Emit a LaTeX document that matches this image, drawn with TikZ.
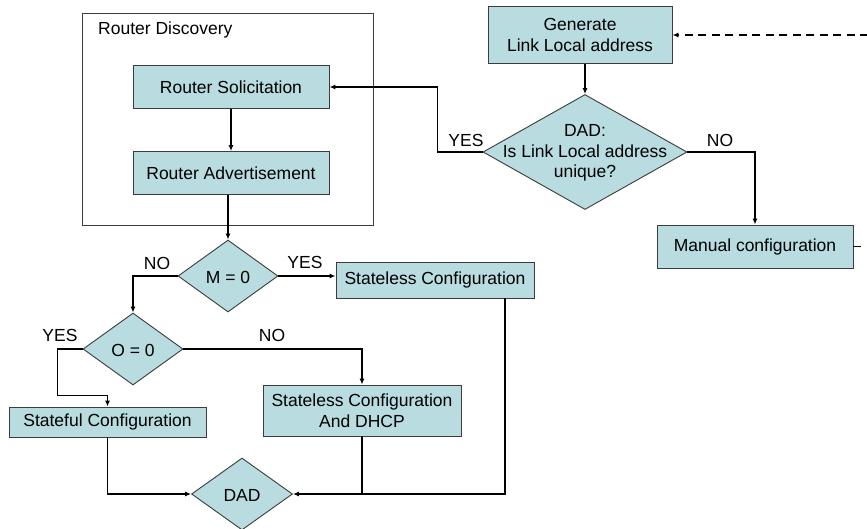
\documentclass[tikz,border=0pt]{standalone}
\usepackage{fontspec}
\setmainfont{Liberation Sans}
\usetikzlibrary{shapes.geometric,arrows.meta}
\definecolor{boxfill}{RGB}{184,220,223}
\definecolor{edge}{RGB}{60,60,60}
\tikzset{
  every node/.style={font=\fontsize{17.5}{20.5}\selectfont, align=center, inner sep=0pt},
  stepbox/.style={draw=edge, fill=boxfill, line width=0.9pt},
  decision/.style={diamond, draw=edge, fill=boxfill, line width=0.9pt},
  frame/.style={draw=edge, line width=0.9pt},
  conn/.style={line width=1.4pt},
  arr/.style={conn, -{Latex[length=6pt,width=5pt]}},
}
\begin{document}
\begin{tikzpicture}[x=1pt,y=-1pt]
\clip (0,0) rectangle (867,528);
\fill[white] (0,0) rectangle (867,528);

% Router discovery group
\node[frame, minimum width=291pt, minimum height=212pt] (rd) at (227.5,119) {};
\node[anchor=west] (rdl) at (98,30) {Router Discovery};
\node[stepbox, minimum width=196pt, minimum height=43pt] (rs) at (231,87) {Router Solicitation};
\node[stepbox, minimum width=196pt, minimum height=43pt] (ra) at (231,173) {Router Advertisement};

% Link local address generation and DAD
\node[stepbox, minimum width=184pt, minimum height=57pt] (gen) at (580,35) {Generate\\Link Local address};
\node[decision, minimum width=204pt, minimum height=115pt] (dad) at (585,152) {};
\node (dadt) at (585,153) {DAD:\\Is Link Local address\\unique?};
\node[stepbox, minimum width=196pt, minimum height=43pt] (man) at (755,246.5) {Manual configuration};

% Flag decisions
\node[decision, minimum width=100pt, minimum height=72pt] (m0) at (228,276) {};
\node (m0t) at (228,277) {M = 0};
\node[stepbox, minimum width=198pt, minimum height=36pt] (slc) at (435,280) {Stateless Configuration};
\node[decision, minimum width=100pt, minimum height=72pt] (o0) at (133,349) {};
\node (o0t) at (133,350) {O = 0};
\node[stepbox, minimum width=197pt, minimum height=30pt] (sf) at (107.5,422) {Stateful Configuration};
\node[stepbox, minimum width=198pt, minimum height=51pt] (dhcp) at (362,410.5) {Stateless Configuration\\And DHCP};
\node[decision, minimum width=101pt, minimum height=72pt] (dad2) at (242,494) {};
\node (dad2t) at (242,495) {DAD};

% Edge labels
\node (ly1) at (466,140) {YES};
\node (ln1) at (720,140) {NO};
\node (ln2) at (157,263) {NO};
\node (ly2) at (305,262) {YES};
\node (ly3) at (60,335) {YES};
\node (ln3) at (272,335) {NO};

% Connectors
\draw[arr] (rs.south) -- (ra.north);
\draw[arr] (ra.south -| m0.north) -- (m0.north);
\draw[arr] (gen.south -| dad.north) -- (dad.north);
\draw[arr] (dad.west) -- ++(-45,0) |- (rs.east);
\draw[arr] (dad.east) -| (man.north);
\draw[arr, line width=1.7pt, dash pattern=on 8pt off 5.5pt] (man.east) -- ++(30,0) |- (gen.east);
\draw[arr] (m0.west) -| (o0.north);
\draw[arr] (m0.east) -- (m0.east -| slc.west);
\draw[arr] (o0.west) -- ++(-25,0) |- ([yshift=11pt]sf.north) -- (sf.north);
\draw[arr] (o0.east) -| (dhcp.north);
\draw[arr] (sf.south) |- (dad2.west);
\draw[conn] (dhcp.south) -- (dhcp.south |- dad2.east);
\draw[arr] ([xshift=70pt]slc.south) |- (dad2.east);
\end{tikzpicture}
\end{document}
